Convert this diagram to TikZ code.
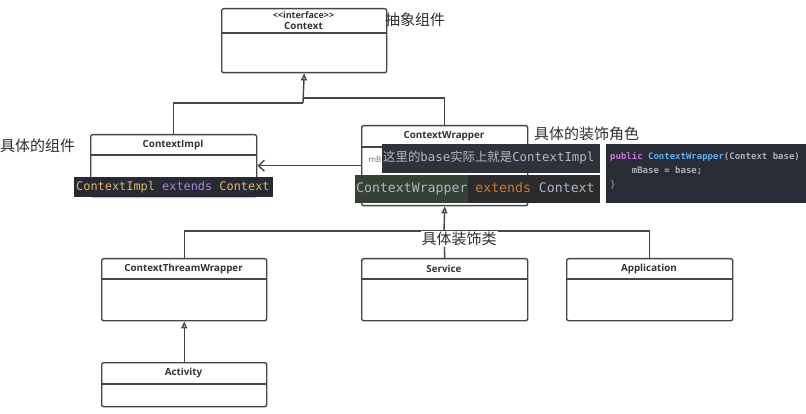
\documentclass[tikz,border=0pt]{standalone}
\usepackage{fontspec}
\newfontfamily\cjk{Noto Sans CJK SC}
\newfontfamily\umlfont{Open Sans}
\newfontfamily\codefont{DejaVu Sans Mono}
\usetikzlibrary{arrows.meta,calc}
\definecolor{umlline}{HTML}{464646}
\definecolor{umltext}{HTML}{333333}
\definecolor{notetext}{HTML}{2E2E2E}
\definecolor{implbg}{HTML}{262A33}
\definecolor{implcls}{HTML}{E8B55E}
\definecolor{implkw}{HTML}{B57EDC}
\definecolor{tipbg}{HTML}{2F323A}
\definecolor{tiptext}{HTML}{B4B9C0}
\definecolor{darcbg}{HTML}{2B2B2B}
\definecolor{darcsel}{HTML}{344134}
\definecolor{darcid}{HTML}{A9B7C6}
\definecolor{darckw}{HTML}{CC7832}
\definecolor{onebg}{HTML}{282C34}
\definecolor{onekw}{HTML}{C678DD}
\definecolor{onefn}{HTML}{61AFEF}
\definecolor{onetx}{HTML}{ABB2BF}
\definecolor{onegray}{HTML}{7F848E}
\tikzset{
  classbox/.style={draw=umlline, line width=1.4pt, rounded corners=2pt, fill=white, inner sep=0pt},
  classrule/.style={draw=umlline, line width=1.4pt},
  classname/.style={font=\umlfont\bfseries\fontsize{9.8}{11}\selectfont, text=umltext, align=center},
  link/.style={draw=umlline, line width=1.4pt},
  inherit/.style={link, -{Triangle[open, length=7pt, width=6pt, fill=white]}},
  assoc/.style={link, -{Straight Barb[length=6pt, width=11pt]}},
  note/.style={font=\cjk\fontsize{15}{17}\selectfont, text=notetext, inner sep=0pt},
  codebox/.style={inner sep=0pt, anchor=north west}
}
% name, left, top, right, divider, bottom, title
\newcommand\umlclass[7]{%
  \node[classbox, anchor=north west, minimum width=#4pt-#2pt, minimum height=#6pt-#3pt] (#1) at (#2,#3) {};
  \draw[classrule] (#2,#5) -- (#4,#5);
  \node[classname] (#1-name) at ({(#2+#4)/2},{(#3+#5)/2}) {#7};
}

\begin{document}
\begin{tikzpicture}[x=1pt,y=-1pt]
  %%%%% START %%%%%
  \fill[white] (0,0) rectangle (806,414);
  \useasboundingbox (0,0) rectangle (806,414);

  \umlclass{ctx}{221}{8}{386}{33}{72}{\fontsize{9}{11}\selectfont{<}{<}interface{>}{>}\\Context}
  \umlclass{impl}{90}{134}{256}{155}{196}{ContextImpl}
  \umlclass{wrap}{361}{125}{527}{147}{205}{ContextWrapper}
  \umlclass{ctw}{101}{258}{266}{279}{320}{ContextThreamWrapper}
  \umlclass{svc}{361}{258}{527}{279}{320}{Service}
  \umlclass{app}{566}{258}{732}{279}{320}{Application}
  \umlclass{act}{101}{362}{266}{384}{406}{Activity}

  \node[font=\umlfont\fontsize{8}{9}\selectfont, text=umltext!70, anchor=east, inner sep=0pt] (mbase) at (381.5,160) {mB};

  % inheritance from Context
  \coordinate (jl) at (303,103);
  \coordinate (jr) at (303,98);
  \draw[link] (impl.north) |- (jl);
  \draw[link] (wrap.north) |- (jr);
  \draw[inherit] (jl) -- (ctx.south);

  % ContextWrapper -> ContextImpl
  \draw[assoc] (wrap.west |- impl.east) -- (impl.east);

  % decorators
  \coordinate (jd) at (444,231);
  \draw[link] (ctw.north) |- (jd) -| (app.north);
  \draw[link] (jd) -- (svc.north);
  \draw[inherit] (jd) -- (wrap.south);
  \draw[inherit] (act.north) -- (ctw.south);

  % labels
  \node[note, anchor=west] (lblctx) at (385,20) {抽象组件};
  \node[note, anchor=west] (lblimpl) at (0,146) {具体的组件};
  \node[note, anchor=west] (lblwrap) at (534,134) {具体的装饰角色};
  \node[note, fill=white, inner xsep=1pt, inner ysep=1pt] (lbldec) at (459,239) {具体装饰类};

  % code snippets
  \node[codebox, fill=implbg, minimum width=199pt, minimum height=20pt] (implsnip) at (74,177) {};
  \node[font=\codefont\fontsize{11.9}{13}\selectfont, anchor=west, inner sep=0pt] (impltxt) at (76,187)
    {\textcolor{implcls}{ContextImpl} \textcolor{implkw}{extends} \textcolor{implcls}{Context}};

  \node[codebox, fill=tipbg, minimum width=218pt, minimum height=29pt] (tipsnip) at (382,144) {};
  \node[font=\fontsize{12.4}{15}\selectfont, text=tiptext, anchor=west, inner sep=0pt] (tiptxt) at (383,158)
    {{\cjk 这里的}{\codefont base}{\cjk 实际上就是}{\codefont ContextImpl}};

  \node[codebox, fill=darcbg, minimum width=245pt, minimum height=28pt] (wrapsnip) at (355,175) {};
  \node[codebox, fill=darcsel, minimum width=113pt, minimum height=28pt] (wrapsel) at (355,175) {};
  \node[font=\codefont\fontsize{13.2}{15}\selectfont, anchor=west, inner sep=0pt] (wraptxt) at (356,189)
    {\textcolor{darcid}{ContextWrapper} \textcolor{darckw}{extends} \textcolor{darcid}{Context}};

  \node[codebox, fill=onebg, minimum width=200pt, minimum height=59pt] (ctorsnip) at (606,144) {};
  \node[font=\codefont\bfseries\fontsize{9}{14}\selectfont, anchor=north west, inner sep=0pt, align=left] (ctortxt) at (610,152)
    {\textcolor{onekw}{public} \textcolor{onefn}{ContextWrapper}\textcolor{onetx}{(Context base)}\\
     \textcolor{onetx}{\ \ \ \ mBase = base;}\\
     \textcolor{onegray}{\}}};
  %%%%% END %%%%%
\end{tikzpicture}
\end{document}
